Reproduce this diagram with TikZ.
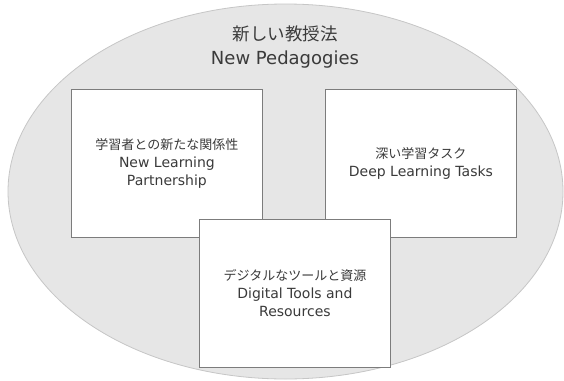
\documentclass[tikz,border=0pt]{standalone}
\usepackage{fontspec}
\setmainfont{DejaVu Sans}
\newfontfamily\jpfont{Noto Sans CJK JP}
\definecolor{ovalfill}{HTML}{E6E6E6}
\definecolor{ovalline}{HTML}{C6C6C6}
\definecolor{boxline}{HTML}{7C7C7C}
\definecolor{ink}{HTML}{3A3A3A}
\newcommand{\jpline}[2]{{\fontsize{#1}{#1}\selectfont\jpfont #2}}
\begin{document}
\begin{tikzpicture}[x=1pt,y=-1pt,
  oval/.style={draw=ovalline, fill=ovalfill, line width=0.8pt},
  panel/.style={draw=boxline, fill=white, line width=0.8pt,
    minimum width=191pt, minimum height=148pt, inner sep=0pt,
    anchor=north west, align=center, text=ink,
    font=\fontsize{14}{18}\selectfont},
  heading/.style={align=center, text=ink, font=\fontsize{18}{24.5}\selectfont}]
  \useasboundingbox (0,0) rectangle (564,380);

  % outer oval
  \draw[oval] (285.5,191.5) ellipse [x radius=277.5, y radius=187.5];

  % title of the oval
  \node[heading] (title) at (285,47)
    {\jpline{17.5}{新しい教授法}\\New Pedagogies};

  % the three components
  \node[panel] (partner) at (71,89)
    {\jpline{13}{学習者との新たな関係性}\\New Learning\\Partnership};
  \node[panel] (tasks) at (325,89)
    {\jpline{13}{深い学習タスク}\\Deep Learning Tasks};
  \node[panel] (tools) at (199,219)
    {\jpline{13}{デジタルなツールと資源}\\Digital Tools and\\Resources};
\end{tikzpicture}
\end{document}
